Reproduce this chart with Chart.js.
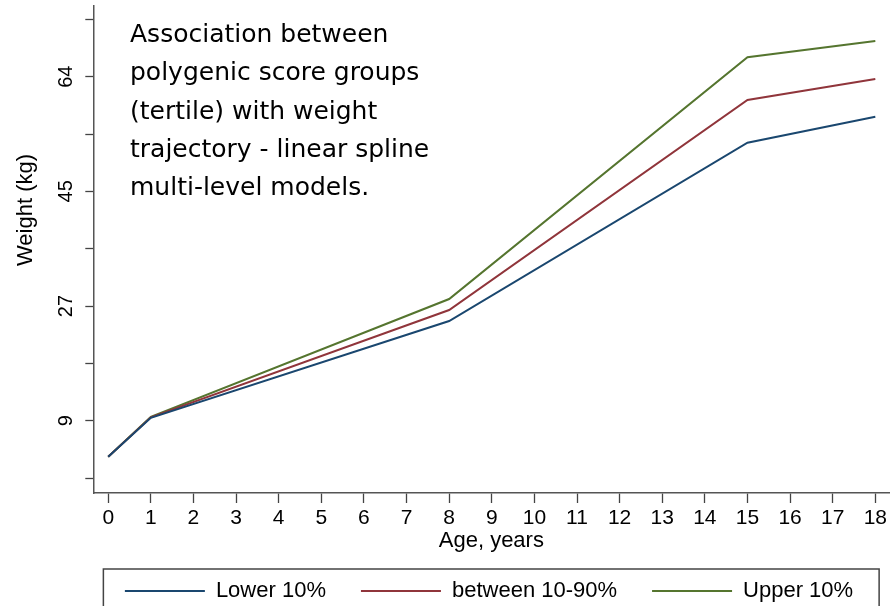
<!DOCTYPE html>
<html><head><meta charset="utf-8">
<script src="https://cdn.jsdelivr.net/npm/chart.js@4.4.1/dist/chart.umd.min.js"></script>
<style>html,body{margin:0;padding:0;background:#fff}canvas{display:block}</style>
</head><body>
<canvas id="c" width="890" height="606"></canvas>
<script>
// ---- data ----
const ages = [0, 1, 8, 15, 18];
const lower10 = [3.24, 9.45, 24.94, 53.45, 57.6];
const between10to90 = [3.24, 9.55, 26.7, 60.27, 63.63];
const upper10 = [3.24, 9.62, 28.45, 67.1, 69.71];
const seriesNames = ['Lower 10%', 'between 10-90%', 'Upper 10%'];
const xTickValues = [0, 1, 2, 3, 4, 5, 6, 7, 8, 9, 10, 11, 12, 13, 14, 15, 16, 17, 18];
const yMajorTicks = [9, 27.33, 45.67, 64];
const yTickLabels = ['9', '27', '45', '64'];
const yMinorTicks = [-0.17, 18.17, 36.5, 54.83, 73.17];
const xTitle = 'Age, years';
const yTitle = 'Weight (kg)';
const noteLines = ['Association between', 'polygenic score groups', '(tertile) with weight', 'trajectory - linear spline', 'multi-level models.'];

const colors = ['#1a476f', '#90353b', '#55752f'];
const SANS = "'Liberation Sans', Arial, sans-serif";
Chart.defaults.font.family = SANS;
Chart.defaults.color = '#000';

const toPts = vals => ages.map((a, i) => ({x: a, y: vals[i]}));
const seriesValues = [lower10, between10to90, upper10];

const extras = {
  id: 'extras',
  afterDraw(chart) {
    const ctx = chart.ctx;
    ctx.save();
    // annotation text block
    ctx.fillStyle = '#000';
    ctx.font = "25px 'DejaVu Sans', sans-serif";
    ctx.textAlign = 'left';
    ctx.textBaseline = 'alphabetic';
    noteLines.forEach((t, i) => ctx.fillText(t, 130, 42 + i * 38.3));
    // y axis title
    ctx.translate(26, 210);
    ctx.rotate(-Math.PI / 2);
    ctx.font = "22px " + SANS;
    ctx.textAlign = 'center';
    ctx.textBaseline = 'middle';
    ctx.fillText(yTitle, 0, 0);
    ctx.restore();
    // legend frame
    const lg = chart.legend;
    if (lg && lg.legendHitBoxes && lg.legendHitBoxes.length) {
      const hb = lg.legendHitBoxes;
      const first = hb[0], last = hb[hb.length - 1];
      const cy = first.top + first.height / 2;
      const x0 = first.left - 21.5, x1 = last.left + last.width + 26;
      ctx.save();
      ctx.strokeStyle = '#444';
      ctx.lineWidth = 1.5;
      ctx.strokeRect(x0, cy - 22, x1 - x0, 70);
      ctx.restore();
    }
  }
};

new Chart(document.getElementById('c'), {
  type: 'line',
  data: {
    datasets: seriesValues.map((v, i) => ({
      label: seriesNames[i],
      data: toPts(v),
      borderColor: colors[i],
      backgroundColor: colors[i],
      borderWidth: 2,
      pointRadius: 0,
      tension: 0
    }))
  },
  options: {
    responsive: false,
    animation: false,
    devicePixelRatio: 1,
    layout: {padding: {left: 88, top: 6, right: 0, bottom: -6}},
    plugins: {
      tooltip: {enabled: false},
      legend: {
        position: 'bottom',
        fullSize: true,
        labels: {
          usePointStyle: true,
          pointStyle: 'line',
          pointStyleWidth: 80,
          font: {size: 22},
          color: '#000',
          padding: 35
        }
      }
    },
    scales: {
      x: {
        type: 'linear',
        min: -0.35,
        max: 18.33,
        afterBuildTicks: s => { s.ticks = xTickValues.map(v => ({value: v})); },
        afterFit: s => { s.height = 52; },
        ticks: {font: {size: 21}, color: '#000', padding: 3, maxRotation: 0, autoSkip: false, callback: v => String(v)},
        grid: {drawOnChartArea: false, drawTicks: true, tickLength: 10, color: '#444', tickWidth: 1.3},
        border: {display: true, color: '#555', width: 1.5},
        title: {display: true, text: xTitle, font: {size: 22}, color: '#000', padding: {top: 0, bottom: -9}}
      },
      y: {
        type: 'linear',
        min: -2.56,
        max: 75.3,
        afterBuildTicks: s => { s.ticks = yMinorTicks.concat(yMajorTicks).sort((a, b) => a - b).map(v => ({value: v})); },
        afterFit: s => { s.width = 5.3; },
        ticks: {
          font: {size: 20}, color: '#000', mirror: true, padding: -37.5, minRotation: 90, maxRotation: 90, crossAlign: 'center',
          autoSkip: false,
          callback: v => { const k = yMajorTicks.findIndex(m => Math.abs(m - v) < 0.01); return k >= 0 ? yTickLabels[k] : ''; }
        },
        grid: {drawOnChartArea: false, drawTicks: true, tickLength: 8, color: '#444', tickWidth: 1.3},
        border: {display: true, color: '#555', width: 1.5},
        title: {display: false}
      }
    }
  },
  plugins: [extras]
});
</script>
</body></html>
